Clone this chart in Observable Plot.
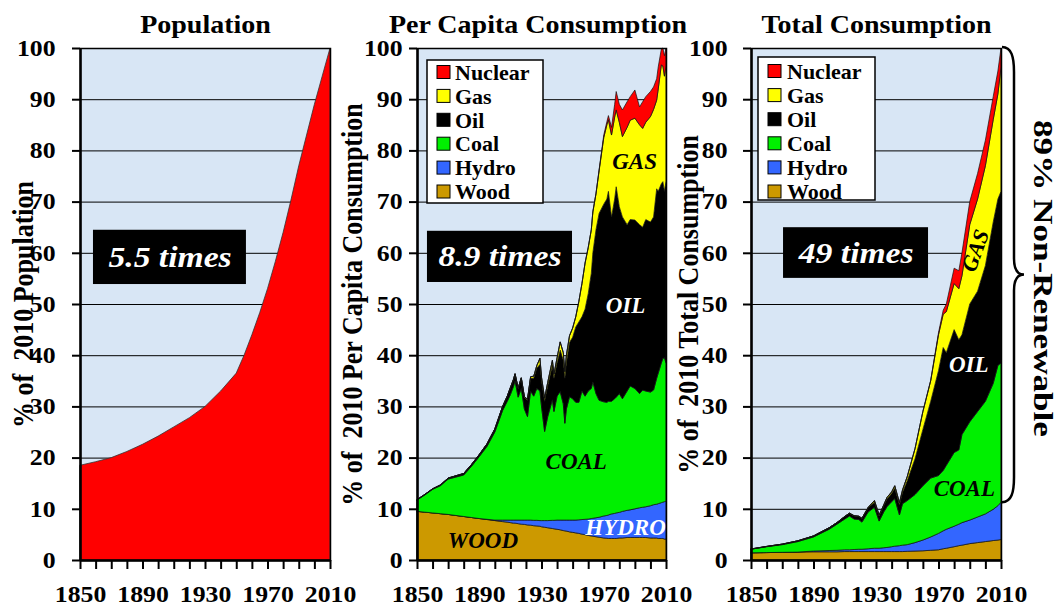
<!DOCTYPE html>
<html>
<head>
<meta charset="utf-8">
<script src="https://cdn.jsdelivr.net/npm/d3@7"></script>
<script src="https://cdn.jsdelivr.net/npm/@observablehq/plot@0.6"></script>
<style>
  body { margin: 0; background: #fff; }
  #chart { position: relative; width: 1061px; height: 607px; overflow: hidden; background: #fff; }
  #chart svg { position: absolute; top: 0; overflow: visible; }
</style>
</head>
<body>
<div id="chart"></div>
<script>
// ---------------- DATA ----------------
const sources = ["Wood", "Hydro", "Coal", "Oil", "Gas", "Nuclear"];
const sourceColors = ["#cc9900", "#3366ff", "#00f000", "#000000", "#ffff00", "#ff0000"];
const legendNames = ["Nuclear", "Gas", "Oil", "Coal", "Hydro", "Wood"];
const xTickLabels = [1850, 1890, 1930, 1970, 2010];

// Population, % of 2010
const popYears = [1850,1860,1870,1880,1890,1900,1910,1920,1930,1940,1950,1955,1960,1965,1970,1975,1980,1985,1990,1995,2000,2005,2010];
const popValues = [18.5,19.2,20.0,21.2,22.6,24.2,26.0,27.8,30.0,33.0,36.5,40.0,44.0,48.3,53.0,58.3,64.0,70.3,77.0,83.0,89.0,94.5,100];

// Per capita consumption, % of 2010 (per source)
const pcYears = [1850,1855,1860,1865,1870,1875,1880,1885,1890,1895,1900,
  1905,1908,1910,1912,1913,1915,1917,1919,1921,1923,1925,1927,1929,1930,
  1932,1934,1937,1938,1940,1942,1944,1945,1946,1948,
  1950,1952,1954,1956,1958,1960,1962,1963,1965,1967,
  1970,1972,1973,1975,1977,1978,1980,1982,1985,1987,
  1990,1993,1995,1997,2000,2002,2004,2005,2007,2008,2009,2010];
const pcWood = [9.5,9.35,9.2,9.05,8.9,8.7,8.5,8.3,8.1,7.9,7.7,
  7.5,7.4,7.3,7.2,7.2,7.1,7.0,6.95,6.85,6.8,6.7,6.65,6.6,6.5,
  6.4,6.3,6.15,6.1,6.0,5.9,5.75,5.7,5.65,5.5,
  5.4,5.3,5.2,5.05,4.95,4.8,4.7,4.65,4.55,4.45,
  4.3,4.25,4.2,4.2,4.2,4.2,4.3,4.3,4.4,4.4,
  4.4,4.4,4.4,4.4,4.3,4.3,4.3,4.2,4.2,4.2,4.1,4.1];
const pcHydro = [0,0,0,0,0,0,0,0,0,0.05,0.1,
  0.3,0.4,0.5,0.6,0.6,0.7,0.8,0.85,0.95,1.0,1.05,1.1,1.1,1.2,
  1.3,1.4,1.6,1.65,1.8,1.9,2.05,2.1,2.15,2.3,
  2.4,2.5,2.65,2.85,3.0,3.2,3.4,3.5,3.7,3.9,
  4.3,4.45,4.6,4.8,4.9,5.0,5.0,5.2,5.3,5.4,
  5.6,5.8,5.9,6.0,6.3,6.5,6.6,6.8,7.0,7.1,7.3,7.4];
const pcCoal = [2.2,3.35,4.6,5.45,6.9,7.5,8.1,10.0,12.1,14.25,17.2,
  21.4,23.2,24.5,26.1,27.2,24.0,25.7,21.7,20.2,25.2,24.25,25.75,25.3,22.3,
  17.4,20.3,23.55,21.25,24.2,25.1,22.7,18.9,21.7,24.1,
  23.7,23.0,22.95,25.1,24.05,25.0,25.4,26.65,24.25,22.85,
  22.3,22.1,22.2,22.0,22.4,22.6,23.2,22.0,23.3,24.2,
  23.5,22.3,22.9,22.6,22.2,22.4,24.6,25.5,27.3,28.1,28.1,27.0];
const pcOil = [0.1,0.1,0.1,0.15,0.2,0.25,0.3,0.35,0.4,0.5,0.6,
  0.8,1.0,1.3,1.3,1.3,1.7,2.0,2.3,3.2,2.5,3.5,4.0,5.2,5.0,
  5.9,6.0,6.7,6.5,6.5,8.1,8.5,8.8,9.0,10.6,
  12.0,14.7,15.7,14.5,17.0,19.0,22.5,25.2,32.0,36.5,
  38.6,39.7,41.0,36.0,39.0,41.1,36.5,35.5,32.5,32.5,
  32.9,33.0,31.8,33.5,33.2,33.8,37.0,35.5,35.0,34.5,32.5,35.5];
const pcGas = [0,0,0,0,0,0,0,0,0,0,0,
  0,0,0.1,0.1,0.1,0.1,0.1,0.1,0.2,0.3,0.4,0.5,1.2,0.7,
  0.6,0.7,1.0,0.8,1.0,1.6,1.5,1.3,1.5,1.3,
  1.8,2.0,4.0,6.5,9.0,9.0,8.5,8.0,7.0,8.3,
  13.0,14.5,14.0,16.0,16.0,15.0,16.5,15.7,19.0,19.4,
  19.9,19.5,19.3,19.0,20.6,21.0,17.3,20.0,23.2,22.6,22.5,22.5];
const pcNuclear = [0,0,0,0,0,0,0,0,0,0,0,
  0,0,0,0,0,0,0,0,0,0,0,0,0,0,
  0,0,0,0,0,0,0,0,0,0,
  0,0,0,0,0,0,0,0,0.1,0.2,
  0.5,0.6,0.8,1.5,2.5,3.6,3.5,5.2,5.0,4.6,
  5.5,3.5,5.2,5.0,4.9,4.4,4.2,4.3,3.1,3.5,4.0,3.5];

// Total consumption, % of 2010 (per source)
const totYears = [1850,1860,1870,1880,1890,1900,
  1905,1910,1913,1916,1919,1921,1925,1929,
  1932,1935,1937,1940,1942,1945,1947,1950,
  1955,1960,1965,1970,1973,1975,1980,1983,1985,
  1990,1995,2000,2005,2008,2010];
const totWood = [1.4,1.45,1.5,1.55,1.6,1.6,
  1.6,1.65,1.65,1.65,1.65,1.65,1.65,1.65,
  1.65,1.65,1.65,1.65,1.65,1.65,1.65,1.7,
  1.75,1.8,1.9,2.0,2.2,2.3,2.6,2.8,2.9,
  3.2,3.4,3.6,3.8,3.9,4.0];
const totHydro = [0,0,0,0,0.15,0.25,
  0.3,0.35,0.35,0.4,0.45,0.45,0.55,0.65,
  0.65,0.75,0.8,0.95,1.05,1.15,1.25,1.3,
  1.65,2.1,2.6,3.2,3.5,3.7,4.0,4.2,4.4,
  4.6,5.0,5.4,6.1,6.7,7.3];
const totCoal = [0.7,1.15,1.5,2.05,2.75,4.15,
  5.1,6.0,6.6,5.95,5.8,5.3,7.2,8.0,
  5.3,7.0,7.95,8.8,9.3,6.0,8.1,8.6,
  9.4,10.6,11.5,11.3,11.8,12.5,14.4,14.5,17.2,
  19.2,20.6,22.0,24.6,27.4,27.2];
const totOil = [0.05,0.05,0.1,0.15,0.2,0.3,
  0.3,0.5,0.5,0.6,0.6,0.7,0.8,1.0,
  1.0,1.2,1.5,1.6,2.0,2.0,2.2,3.9,
  7.0,11.0,15.0,20.5,24.0,22.0,24.0,21.5,19.5,
  23.0,23.5,26.5,31.5,32.5,33.5];
const totGas = [0,0,0,0,0,0,
  0,0,0.05,0.05,0.05,0.05,0.1,0.3,
  0.2,0.2,0.3,0.3,0.5,0.4,0.5,0.8,
  2.0,3.5,4.0,7.0,6.5,8.0,9.0,10.0,11.5,
  15.5,18.0,19.5,20.0,20.5,24.3];
const totNuclear = [0,0,0,0,0,0,
  0,0,0,0,0,0,0,0,
  0,0,0,0,0,0,0,0,
  0,0,0.1,0.4,0.8,1.5,3.0,3.5,4.5,
  4.5,5.0,5.0,4.5,4.5,3.7];

// ---------------- BUILD TABLES ----------------
const popData = popYears.map((year, i) => ({year, value: popValues[i]}));
function tidy(years, series) {
  const rows = [];
  sources.forEach((s, k) => years.forEach((year, i) => rows.push({year, source: s, value: series[k][i]})));
  return rows;
}
const pcData = tidy(pcYears, [pcWood, pcHydro, pcCoal, pcOil, pcGas, pcNuclear]);
const totData = tidy(totYears, [totWood, totHydro, totCoal, totOil, totGas, totNuclear]);

// ---------------- HELPERS ----------------
const FONT = '"Liberation Serif", "Times New Roman", Times, serif';
const BG = "#d8e6f5";
const SIDE_NOTE = "89% Non-Renewable";
const container = document.getElementById("chart");
const noStretch = new Set(["GAS", "OIL", "COAL", "WOOD", "HYDRO"]);

function panel({left, width, marginLeft, marginRight, tickPadding, title, titleDx, ylabel, ylabelDx, marks}) {
  const plot = Plot.plot({
    width, height: 607,
    marginLeft, marginRight, marginTop: 48, marginBottom: 47,
    x: {domain: [1850, 2010], label: null},
    y: {domain: [0, 100], label: null},
    color: {domain: sources, range: sourceColors},
    style: {fontFamily: FONT, fontWeight: "bold", background: "transparent", overflow: "visible", color: "#000"},
    marks: [
      Plot.frame({fill: BG}),
      Plot.gridY(d3.range(10, 100, 10), {stroke: "#000", strokeOpacity: 1, strokeWidth: 1}),
      ...marks,
      Plot.frame({stroke: "#000", strokeWidth: 1.5}),
      Plot.ruleX([1850], {stroke: "#000", strokeWidth: 2.5}),
      Plot.ruleY([0], {stroke: "#000", strokeWidth: 2.5}),
      Plot.axisY(d3.range(0, 101, 10), {tickSize: 8, tickPadding, strokeWidth: 2, fontSize: 23, label: null}),
      Plot.axisX(d3.range(1850, 2011, 10), {tickSize: 9, strokeWidth: 2, tickFormat: () => "", label: null}),
      Plot.axisX(xTickLabels, {tickSize: 0, tickPadding: 25, tickFormat: d3.format("d"), fontSize: 23, label: null}),
      Plot.text([title], {frameAnchor: "top", dy: -24, dx: titleDx, fontSize: 25, fontWeight: "bold", textAnchor: "middle", lineAnchor: "middle"}),
      Plot.text([ylabel], {frameAnchor: "left", dx: ylabelDx, rotate: -90, fontSize: 26, fontWeight: "bold", textAnchor: "middle", lineAnchor: "middle"})
    ]
  });
  plot.style.left = left + "px";
  container.appendChild(plot);
  return plot;
}

function stretch(svg, k) {
  svg.querySelectorAll("text").forEach(el => {
    if (!el.textContent) return;
    if (noStretch.has(el.textContent)) return;
    const tr = el.getAttribute("transform") || "";
    if (el.textContent === SIDE_NOTE) {
      const len = el.getComputedTextLength();
      el.setAttribute("textLength", len * 1.3);
      el.setAttribute("lengthAdjust", "spacingAndGlyphs");
      return;
    }
    if (tr.includes("rotate")) {
      el.setAttribute("transform", tr + " scale(1,1.12)");
      return;
    }
    const len = el.getComputedTextLength();
    el.setAttribute("textLength", len * k);
    el.setAttribute("lengthAdjust", "spacingAndGlyphs");
  });
}

function addLegend(svg, bx, by, bw, bh, swX, txtX, row0, step) {
  const g = d3.select(svg).append("g").attr("class", "legend");
  g.append("rect").attr("x", bx).attr("y", by).attr("width", bw).attr("height", bh)
    .attr("fill", "#fff").attr("stroke", "#000").attr("stroke-width", 1.5);
  legendNames.forEach((n, i) => {
    const cy = row0 + i * step;
    g.append("rect").attr("x", swX).attr("y", cy - 6.5).attr("width", 13).attr("height", 13)
      .attr("fill", sourceColors[sources.indexOf(n)]).attr("stroke", "#000").attr("stroke-width", 1);
    g.append("text").attr("x", txtX).attr("y", cy).attr("dy", "0.35em").attr("text-anchor", "start")
      .attr("font-size", 22).attr("font-weight", "bold").attr("font-family", FONT).attr("fill", "#000").text(n);
  });
}

function label(text, x, y, opts = {}) {
  return Plot.text([{x, y, t: text}], {x: "x", y: "y", text: "t", fontSize: 23, fontStyle: "italic", fontWeight: "bold", fill: "#000", ...opts});
}
function box(x1, x2, y1, y2) {
  return Plot.rect([{x1, x2, y1, y2}], {x1: "x1", x2: "x2", y1: "y1", y2: "y2", fill: "#000"});
}

const areaOpts = {x: "year", y: "value", z: "source", fill: "source", order: sources, stroke: "#111", strokeWidth: 0.7};

// ---------------- PANEL 1 ----------------
const p1 = panel({
  left: 0, width: 345, marginLeft: 80, marginRight: 15, tickPadding: 17,
  title: "Population", titleDx: 0,
  ylabel: "% of  2010 Population", ylabelDx: -57,
  marks: [
    Plot.areaY(popData, {x: "year", y: "value", fill: "#ff0000", stroke: "#333", strokeWidth: 0.8}),
    box(1858.3, 1956.2, 53.9, 64.5),
    label("5.5 times", 1907.3, 59.2, {fill: "#fff", fontSize: 30})
  ]
});

// ---------------- PANEL 2 ----------------
const p2 = panel({
  left: 338, width: 345, marginLeft: 79, marginRight: 17, tickPadding: 7,
  title: "Per Capita Consumption", titleDx: -4,
  ylabel: "% of  2010 Per Capita Consumption", ylabelDx: -65,
  marks: [
    Plot.areaY(pcData, areaOpts),
    box(1856.4, 1949.6, 54.3, 64.3),
    label("8.9 times", 1903, 59.3, {fill: "#fff", fontSize: 30}),
    label("GAS", 1989.5, 78),
    label("OIL", 1983.7, 49.8, {fill: "#fff"}),
    label("COAL", 1952, 19.3),
    label("WOOD", 1892, 3.9),
    label("HYDRO", 1983.7, 6.4, {fill: "#fff"})
  ]
});

// ---------------- PANEL 3 ----------------
const p3 = panel({
  left: 676, width: 385, marginLeft: 75, marginRight: 60, tickPadding: 16,
  title: "Total Consumption", titleDx: 0,
  ylabel: "% of  2010 Total Consumption", ylabelDx: -63,
  marks: [
    Plot.areaY(totData, areaOpts),
    box(1870.5, 1963.3, 55.1, 65.0),
    label("49 times", 1917, 60, {fill: "#fff", fontSize: 30}),
    label("GAS", 1993.4, 60.5, {rotate: -70, fontSize: 22}),
    label("OIL", 1989, 38.3, {fill: "#fff"}),
    label("COAL", 1986.2, 14),
    Plot.text([SIDE_NOTE], {frameAnchor: "right", dx: 41, dy: -26, rotate: 90, fontSize: 27, fontWeight: "bold", textAnchor: "middle", lineAnchor: "middle"})
  ]
});

stretch(p1, 1.12);
stretch(p2, 1.12);
stretch(p3, 1.12);

addLegend(p2, 89, 60, 116, 143, 99, 117, 72, 23.9);
addLegend(p3, 82, 57, 117, 143, 92, 111, 71, 24.1);

// Brace for the non-renewable share (from 100 down to top of hydro in 2010)
{
  const ys = p3.scale("y");
  const x0 = 385 - 60 + 1;
  const y0 = ys.apply(100) - 1;
  const y1 = ys.apply(totWood[totWood.length - 1] + totHydro[totHydro.length - 1]);
  const ym = (y0 + y1) / 2;
  const s = 12, t = 22;
  const path = `M${x0},${y0} C${x0 + s * 0.8},${y0} ${x0 + s},${y0 + 10} ${x0 + s},${y0 + 25}
    L${x0 + s},${ym - 16} C${x0 + s},${ym - 5} ${x0 + s + 4},${ym} ${x0 + t},${ym}
    C${x0 + s + 4},${ym} ${x0 + s},${ym + 5} ${x0 + s},${ym + 16}
    L${x0 + s},${y1 - 25} C${x0 + s},${y1 - 10} ${x0 + s * 0.8},${y1} ${x0},${y1}`;
  d3.select(p3).append("path").attr("d", path).attr("fill", "none").attr("stroke", "#000").attr("stroke-width", 2.5);
}
</script>
</body>
</html>
